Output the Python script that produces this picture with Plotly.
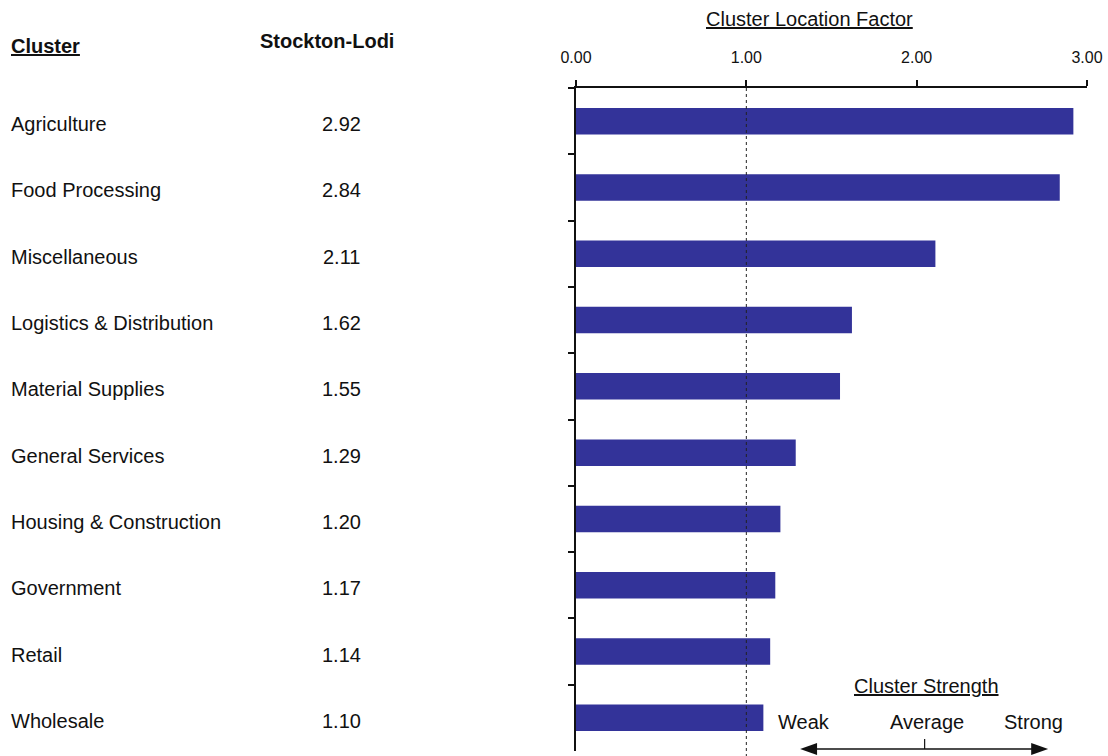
import plotly.graph_objects as go

clusters = ["Agriculture", "Food Processing", "Miscellaneous", "Logistics & Distribution",
            "Material Supplies", "General Services", "Housing & Construction",
            "Government", "Retail", "Wholesale"]
values = [2.92, 2.84, 2.11, 1.62, 1.55, 1.29, 1.20, 1.17, 1.14, 1.10]
x_ticks = [0, 1, 2, 3]
x_tick_labels = ["0.00", "1.00", "2.00", "3.00"]

W, H = 1108, 756
L, R, T, B = 576, 19, 88, 5
PW, PH = W - L - R, H - T - B

def px(x):
    return (x - L) / PW

def py(y):
    return (H - B - y) / PH

FONT = "Liberation Sans, Arial, sans-serif"
BAR = "#333399"
TXT = "#111111"
FS = 20

fig = go.Figure()
fig.add_trace(go.Bar(
    x=values, y=clusters, orientation="h", width=0.4,
    marker=dict(color=BAR, line=dict(width=0)), hoverinfo="x+y"))

annotations = []
for c, v in zip(clusters, values):
    annotations.append(dict(x=px(7), y=c, xref="paper", yref="y", text=c,
                            showarrow=False, xanchor="left", yanchor="middle", yshift=-3,
                            font=dict(family=FONT, size=FS, color=TXT)))
    annotations.append(dict(x=px(341), y=c, xref="paper", yref="y", text=f"{v:.2f}",
                            showarrow=False, xanchor="center", yanchor="middle", yshift=-3,
                            font=dict(family=FONT, size=FS, color=TXT)))

def note(x, y, text, anchor="center"):
    return dict(x=px(x), y=py(y), xref="paper", yref="paper", text=text,
                showarrow=False, xanchor=anchor, yanchor="middle",
                font=dict(family=FONT, size=FS, color=TXT))

annotations += [
    note(7, 46, "<b><u>Cluster</u></b>", "left"),
    note(326, 41, "<b>Stockton-Lodi</b>"),
    note(810, 19, "<u>Cluster Location Factor</u>"),
    note(928, 686, "<u>Cluster Strength</u>"),
    note(805, 722, "Weak"),
    note(928, 722, "Average"),
    note(1035, 722, "Strong"),
]

shapes = [
    dict(type="line", xref="x", yref="paper", x0=1, x1=1, y0=1, y1=py(758),
         line=dict(color="#222", width=1, dash="dot"), layer="above"),
    dict(type="line", xref="paper", yref="paper", x0=px(812), x1=px(1040), y0=py(749), y1=py(749),
         line=dict(color=TXT, width=1.5)),
    dict(type="line", xref="paper", yref="paper", x0=px(926), x1=px(926), y0=py(739), y1=py(749),
         line=dict(color=TXT, width=1.2)),
    dict(type="path", xref="paper", yref="paper",
         path=f"M {px(801)} {py(749)} L {px(818)} {py(743)} L {px(818)} {py(755)} Z",
         fillcolor=TXT, line=dict(width=0)),
    dict(type="path", xref="paper", yref="paper",
         path=f"M {px(1050)} {py(749)} L {px(1033)} {py(743)} L {px(1033)} {py(755)} Z",
         fillcolor=TXT, line=dict(width=0)),
]

fig.update_layout(
    width=W, height=H,
    margin=dict(l=L, r=R, t=T, b=B, pad=0),
    paper_bgcolor="white", plot_bgcolor="white",
    showlegend=False,
    font=dict(family=FONT, size=16, color=TXT),
    annotations=annotations, shapes=shapes,
    xaxis=dict(side="top", range=[0, 3], tickvals=x_ticks, ticktext=x_tick_labels,
               ticks="outside", ticklen=6, tickwidth=1.5, tickcolor=TXT,
               showline=True, linecolor=TXT, linewidth=1.5,
               showgrid=False, zeroline=False, ticklabelstandoff=11,
               tickfont=dict(family=FONT, size=16, color=TXT), fixedrange=True),
    yaxis=dict(autorange="reversed", type="category", tickson="boundaries",
               ticks="outside", ticklen=6, tickwidth=1.5, tickcolor=TXT,
               showticklabels=False, showline=True, linecolor=TXT, linewidth=1.5,
               showgrid=False, zeroline=False, fixedrange=True),
    bargap=0.6,
)

fig.write_html("out.html")
